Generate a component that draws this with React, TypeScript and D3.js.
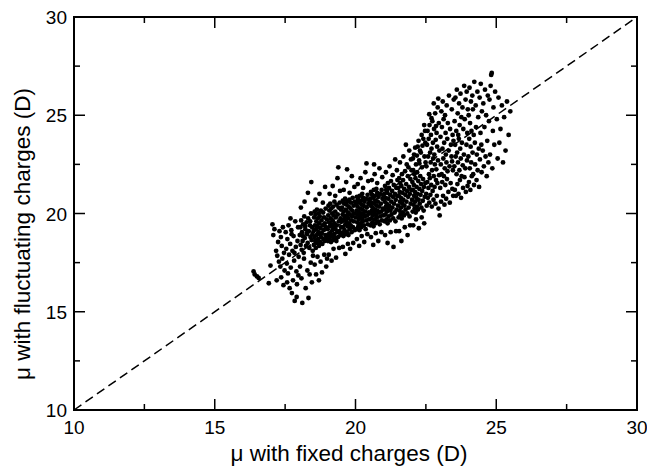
import React from "react";
import * as d3 from "d3";

const xTicksMajor = [10, 15, 20, 25, 30];
const xTicksMinor = [12.5, 17.5, 22.5, 27.5];
const yTicksMajor = [10, 15, 20, 25, 30];
const yTicksMinor = [12.5, 17.5, 22.5, 27.5];
const xTitle = "μ with fixed charges (D)";
const yTitle = "μ with fluctuating charges (D)";
const diagonal = [[10, 10], [30, 30]];

const tailPoints = [
  [16.38,17.05],[16.42,16.9],[16.5,16.8],[16.56,16.72],[16.92,16.45],[16.98,17.35],
  [17.05,19.45],[17.08,18.9],[17.12,19.2],[17.18,18.1],[17.22,17.85],[17.25,18.55],[17.3,19.1],[17.33,17.3],[17.36,16.75],[17.38,18.35],[17.4,17.7],[17.42,19.3],[17.44,16.35],[17.46,18.0],[17.48,17.1],[17.2,16.6],[17.28,17.55],[17.35,18.8],
  [17.52,19.05],[17.54,18.2],[17.56,17.45],[17.58,18.7],[17.6,16.95],[17.62,19.4],[17.64,17.9],[17.66,16.2],[17.68,18.45],[17.7,17.25],[17.72,19.15],[17.74,15.95],[17.76,18.1],[17.78,16.6],[17.8,18.85],[17.82,17.6],[17.84,15.55],[17.86,19.6],[17.88,18.3],[17.9,17.05],[17.92,16.4],[17.94,18.6],[17.96,19.3],[17.98,17.8],[17.57,16.5],[17.69,19.75],[17.83,18.0],[17.91,15.75],[17.73,18.95],[17.97,16.85],
];

const lowerCluster = [
  [18.02,18.9],[18.04,19.3],[18.05,18.4],[18.07,19.65],[18.09,18.15],[18.1,19.05],[18.12,18.6],[18.14,19.45],[18.16,18.0],[18.18,19.85],[18.2,18.75],[18.22,19.2],[18.24,18.35],[18.26,19.55],[18.28,18.95],[18.3,18.5],[18.32,19.75],[18.34,19.1],[18.36,18.25],[18.38,19.4],[18.4,18.8],[18.42,20.0],[18.44,18.65],[18.46,19.3],[18.48,18.1],[18.13,18.85],[18.27,19.0],[18.39,19.6],[18.47,18.95],[18.21,19.35],
  [18.03,17.3],[18.08,16.7],[18.11,15.45],[18.17,17.7],[18.23,16.2],[18.29,17.1],[18.33,15.7],[18.37,16.9],[18.41,17.5],[18.45,16.5],[18.06,20.3],[18.19,20.6],[18.31,21.05],[18.43,21.6],[18.49,17.85],
  [18.51,19.1],[18.52,18.4],[18.53,19.8],[18.54,18.8],[18.55,20.1],[18.56,19.4],[18.57,18.6],[18.58,19.95],[18.59,18.25],[18.6,19.2],[18.61,19.6],[18.62,18.9],[18.63,20.2],[18.64,18.5],[18.65,19.35],[18.66,19.75],[18.67,18.7],[18.68,19.05],[18.69,20.0],[18.7,18.35],[18.71,19.5],[18.72,18.95],[18.73,19.85],[18.74,18.55],[18.75,19.25],[18.77,20.15],[18.78,18.8],[18.79,19.65],[18.8,19.0],[18.82,18.45],[18.83,19.4],[18.85,20.05],[18.86,18.7],[18.87,19.15],[18.88,19.8],[18.9,18.6],[18.91,19.5],[18.93,18.9],[18.94,20.25],[18.95,19.3],[18.97,18.75],[18.98,19.7],
  [18.55,17.4],[18.6,16.9],[18.65,17.8],[18.7,16.6],[18.76,17.55],[18.81,17.0],[18.89,17.9],[18.96,17.3],[18.58,20.7],[18.72,21.0],[18.84,20.55],[18.92,21.35],[18.99,17.7],
  [19.01,19.2],[19.02,18.6],[19.03,19.9],[19.04,20.4],[19.05,18.9],[19.06,19.55],[19.07,20.15],[19.08,18.7],[19.09,19.35],[19.1,20.5],[19.11,19.0],[19.12,19.75],[19.13,18.55],[19.14,20.25],[19.15,19.45],[19.16,18.85],[19.17,20.0],[19.18,19.15],[19.19,19.65],[19.2,18.65],[19.21,20.35],[19.22,19.3],[19.23,19.9],[19.24,18.95],[19.25,20.6],[19.26,19.5],[19.27,18.75],[19.28,20.1],[19.29,19.2],[19.3,19.8],[19.32,18.6],[19.33,20.45],[19.34,19.4],[19.35,19.05],[19.37,19.95],[19.38,18.8],[19.4,20.3],[19.41,19.6],[19.43,19.1],[19.44,20.55],[19.46,18.9],[19.47,19.75],[19.48,20.2],[19.49,19.3],
  [19.05,17.9],[19.15,17.6],[19.22,18.2],[19.31,17.75],[19.42,18.25],[19.08,21.0],[19.19,21.4],[19.28,20.9],[19.36,21.8],[19.45,21.15],[19.39,22.35],
];

const middleCluster = [
  [19.51,19.6],[19.52,20.3],[19.53,19.0],[19.54,19.95],[19.55,20.65],[19.56,19.3],[19.57,18.85],[19.58,20.1],[19.59,19.7],[19.6,20.5],[19.61,19.15],[19.62,19.85],[19.63,20.75],[19.64,19.45],[19.65,18.95],[19.66,20.2],[19.67,19.6],[19.68,20.45],[19.69,19.05],[19.7,19.9],[19.71,20.6],[19.72,19.35],[19.73,20.05],[19.74,19.75],[19.75,18.9],[19.76,20.35],[19.77,19.5],[19.78,20.7],[19.79,19.2],[19.8,19.95],[19.82,20.25],[19.83,19.4],[19.84,20.55],[19.85,19.65],[19.86,19.05],[19.88,20.15],[19.89,19.85],[19.9,20.8],[19.91,19.3],[19.93,20.4],[19.94,19.6],[19.95,20.0],[19.97,19.15],[19.98,20.6],
  [19.55,18.3],[19.64,17.95],[19.73,18.45],[19.81,18.2],[19.92,18.5],[19.58,21.2],[19.67,21.6],[19.79,21.05],[19.87,21.9],[19.96,21.35],[19.7,22.25],
  [20.01,19.8],[20.02,20.5],[20.03,19.2],[20.04,20.15],[20.05,20.85],[20.06,19.55],[20.07,20.35],[20.08,19.95],[20.09,20.7],[20.1,19.35],[20.11,20.1],[20.12,19.7],[20.13,20.55],[20.14,19.15],[20.15,20.9],[20.16,19.85],[20.17,20.25],[20.18,19.5],[20.19,20.65],[20.2,20.0],[20.21,19.3],[20.22,20.45],[20.23,19.75],[20.24,21.0],[20.25,20.2],[20.26,19.6],[20.27,20.8],[20.28,19.95],[20.29,20.4],[20.3,19.4],[20.32,20.6],[20.33,19.85],[20.34,20.1],[20.36,19.2],[20.37,20.75],[20.38,19.65],[20.4,20.3],[20.41,19.9],[20.43,20.95],[20.44,19.45],[20.46,20.5],[20.47,20.05],[20.48,19.7],[20.49,20.65],
  [20.05,18.7],[20.13,18.35],[20.22,18.85],[20.31,18.55],[20.42,18.95],[20.08,21.5],[20.18,21.8],[20.27,21.3],[20.35,22.1],[20.45,21.65],[20.39,22.55],
  [20.51,20.0],[20.52,20.75],[20.53,19.4],[20.54,20.4],[20.55,21.1],[20.56,19.75],[20.57,20.55],[20.58,20.15],[20.59,20.95],[20.6,19.55],[20.61,20.3],[20.62,19.9],[20.63,20.8],[20.64,19.35],[20.65,21.2],[20.66,20.05],[20.67,20.5],[20.68,19.7],[20.69,20.9],[20.7,20.2],[20.71,19.5],[20.72,20.65],[20.73,19.95],[20.74,21.25],[20.75,20.4],[20.76,19.8],[20.77,21.05],[20.78,20.15],[20.79,20.6],[20.8,19.6],[20.82,20.85],[20.83,20.05],[20.84,20.35],[20.86,19.45],[20.87,21.0],[20.88,19.85],[20.9,20.5],[20.91,20.1],[20.93,21.2],[20.94,19.65],[20.96,20.75],[20.97,20.25],[20.98,19.9],[20.99,20.9],
  [20.55,18.8],[20.63,18.4],[20.72,19.0],[20.81,18.6],[20.92,19.05],[20.58,21.7],[20.68,22.0],[20.77,21.55],[20.85,22.3],[20.95,21.85],[20.66,22.5],
  [21.01,20.2],[21.02,21.0],[21.03,19.6],[21.04,20.6],[21.05,21.4],[21.06,19.95],[21.07,20.8],[21.08,20.35],[21.09,21.2],[21.1,19.7],[21.11,20.5],[21.12,20.1],[21.13,21.05],[21.14,19.5],[21.15,21.55],[21.16,20.25],[21.17,20.75],[21.18,19.85],[21.19,21.3],[21.2,20.4],[21.22,19.65],[21.23,20.95],[21.24,20.15],[21.26,21.65],[21.27,20.6],[21.28,19.95],[21.3,21.15],[21.31,20.3],[21.33,20.85],[21.34,19.75],[21.36,21.45],[21.37,20.5],[21.39,20.05],[21.4,21.0],[21.42,19.6],[21.43,20.7],[21.45,21.3],[21.46,20.2],[21.48,20.9],[21.49,21.7],
  [21.05,18.9],[21.14,18.5],[21.25,19.05],[21.35,18.3],[21.44,19.1],[21.08,22.1],[21.21,22.4],[21.32,21.95],[21.41,22.75],[21.47,22.2],
];

const upperCluster = [
  [21.51,20.4],[21.52,21.3],[21.53,19.8],[21.54,20.9],[21.55,21.8],[21.56,20.15],[21.57,21.1],[21.58,20.6],[21.59,21.55],[21.6,19.95],[21.61,20.8],[21.62,20.3],[21.63,21.4],[21.64,19.75],[21.65,22.0],[21.66,20.5],[21.67,21.05],[21.68,20.05],[21.69,21.7],[21.7,20.7],[21.72,19.9],[21.73,21.25],[21.74,20.4],[21.76,22.15],[21.77,20.95],[21.78,20.2],[21.8,21.5],[21.81,20.6],[21.83,21.15],[21.84,20.0],[21.86,21.9],[21.87,20.85],[21.89,20.3],[21.9,21.35],[21.92,19.85],[21.93,21.0],[21.95,21.75],[21.96,20.5],[21.98,21.2],[21.99,22.2],
  [21.55,19.1],[21.63,18.6],[21.75,19.3],[21.85,18.9],[21.94,19.4],[21.58,22.6],[21.7,22.9],[21.82,22.5],[21.91,23.2],[21.97,22.75],[21.79,23.5],[21.88,22.35],
  [22.01,20.7],[22.02,21.6],[22.03,20.1],[22.04,21.2],[22.05,22.2],[22.06,20.45],[22.07,21.45],[22.08,20.9],[22.09,22.0],[22.1,20.25],[22.11,21.1],[22.12,20.6],[22.13,21.8],[22.14,20.05],[22.15,22.5],[22.16,20.8],[22.17,21.35],[22.18,20.35],[22.19,22.1],[22.2,21.0],[22.22,20.2],[22.23,21.65],[22.24,20.7],[22.26,22.7],[22.27,21.25],[22.28,20.5],[22.3,21.9],[22.31,20.95],[22.33,21.5],[22.34,20.3],[22.36,22.35],[22.37,21.15],[22.39,20.65],[22.4,21.75],[22.42,20.15],[22.43,21.35],[22.45,22.9],[22.46,20.85],[22.48,21.55],[22.49,22.6],
  [22.05,19.4],[22.15,19.7],[22.25,19.25],[22.35,19.8],[22.44,19.5],[22.08,23.0],[22.21,23.4],[22.32,23.1],[22.41,23.8],[22.47,24.2],
  [22.04,22.8],[22.12,23.35],[22.18,22.95],[22.24,23.7],[22.29,23.2],[22.35,24.0],[22.38,23.45],[22.44,24.5],[22.48,23.6],[22.27,22.55],
  [22.51,21.0],[22.52,22.4],[22.53,20.4],[22.54,23.5],[22.55,21.6],[22.56,24.2],[22.57,20.8],[22.58,22.9],[22.59,21.3],[22.6,23.8],[22.61,22.0],[22.62,20.55],[22.63,24.5],[22.64,21.8],[22.65,23.1],[22.66,20.95],[22.67,22.6],[22.68,24.0],[22.69,21.45],[22.7,23.3],[22.71,20.35],[22.72,22.2],[22.73,24.7],[22.74,21.15],[22.75,23.6],[22.76,22.8],[22.77,20.7],[22.78,21.9],[22.79,24.3],[22.8,23.0],[22.81,21.35],[22.82,22.5],[22.83,25.1],[22.84,20.5],[22.85,23.75],[22.86,21.7],[22.87,22.25],[22.88,24.1],[22.89,20.9],[22.9,23.4],[22.91,21.55],[22.92,25.4],[22.93,22.7],[22.95,20.25],[22.96,24.6],[22.97,21.95],[22.98,23.2],[22.99,19.9],
  [22.62,25.05],[22.78,25.6],[22.94,25.85],[22.7,24.85],[22.86,24.45],
];

const topCluster = [
  [23.01,21.3],[23.02,23.9],[23.03,22.5],[23.04,20.6],[23.05,25.2],[23.06,22.0],[23.07,24.4],[23.08,21.6],[23.09,23.3],[23.1,25.7],[23.11,20.9],[23.12,22.8],[23.13,24.8],[23.14,21.9],[23.15,23.6],[23.16,20.45],[23.17,22.3],[23.18,25.0],[23.19,21.45],[23.2,24.1],[23.21,23.0],[23.22,20.75],[23.23,22.6],[23.24,25.5],[23.25,21.75],[23.26,23.8],[23.27,22.15],[23.28,24.6],[23.3,21.1],[23.31,23.2],[23.32,26.0],[23.34,22.4],[23.35,20.55],[23.36,24.3],[23.38,21.55],[23.39,23.5],[23.41,22.9],[23.42,25.3],[23.44,21.25],[23.45,24.0],[23.46,22.2],[23.47,20.9],[23.48,23.7],[23.49,25.8],[23.43,22.65],
  [23.51,22.4],[23.52,24.7],[23.53,21.2],[23.54,23.5],[23.55,25.9],[23.56,22.9],[23.57,20.9],[23.58,24.2],[23.59,22.0],[23.6,26.3],[23.61,23.1],[23.62,21.5],[23.63,25.1],[23.64,22.6],[23.65,24.0],[23.66,21.0],[23.67,23.8],[23.68,25.6],[23.69,22.2],[23.7,24.5],[23.71,21.7],[23.72,23.3],[23.73,26.1],[23.74,22.8],[23.75,20.8],[23.76,24.9],[23.77,21.9],[23.78,23.6],[23.8,25.4],[23.81,22.45],[23.82,21.3],[23.83,24.3],[23.85,23.0],[23.86,26.5],[23.87,21.85],[23.88,24.8],[23.9,22.3],[23.91,25.8],[23.92,21.1],[23.94,23.5],[23.95,26.2],[23.96,22.7],[23.97,24.1],[23.98,21.4],[23.99,25.3],
  [24.01,22.9],[24.02,25.0],[24.03,21.6],[24.04,23.8],[24.05,26.4],[24.06,22.3],[24.07,24.6],[24.08,21.2],[24.09,23.4],[24.1,25.7],[24.11,22.6],[24.12,24.2],[24.13,21.9],[24.15,26.0],[24.16,23.1],[24.17,25.3],[24.18,22.0],[24.2,24.0],[24.21,21.45],[24.22,26.7],[24.24,23.6],[24.25,22.5],[24.27,25.5],[24.28,24.4],[24.3,21.7],[24.31,23.0],[24.33,26.2],[24.34,22.2],[24.36,24.9],[24.38,23.3],[24.39,21.35],[24.41,25.9],[24.42,22.75],[24.44,24.1],[24.45,26.6],[24.47,23.5],[24.48,22.1],[24.49,25.2],
  [24.52,23.2],[24.54,25.6],[24.56,22.4],[24.58,24.4],[24.6,26.3],[24.62,22.9],[24.64,25.0],[24.66,21.9],[24.68,23.7],[24.7,26.0],[24.72,22.6],[24.74,24.7],[24.76,25.8],[24.78,23.0],[24.8,26.5],[24.82,27.05],[24.84,27.15],[24.86,22.3],[24.88,24.2],[24.9,25.4],[24.93,23.5],[24.96,26.2],
  [25.02,24.8],[25.05,22.8],[25.08,25.9],[25.11,23.6],[25.15,24.3],[25.2,25.5],[25.24,22.6],[25.28,24.9],[25.33,23.2],[25.38,25.7],[25.44,24.0],[25.5,25.2],
];

const allPoints = [...tailPoints, ...lowerCluster, ...middleCluster, ...upperCluster, ...topCluster];

const W = 647;
const H = 468;
const left = 74, right = 637, top = 17, bottom = 410;
const FONT = "'Liberation Sans', Arial, Helvetica, sans-serif";

export default function App() {
  const x = d3.scaleLinear().domain([10, 30]).range([left, right]);
  const y = d3.scaleLinear().domain([10, 30]).range([bottom, top]);
  const line = d3.line<number[]>().x(d => x(d[0])).y(d => y(d[1]));
  const majorLen = 11, minorLen = 6;

  return (
    <svg width={W} height={H} style={{ position: "absolute", left: 0, top: 0, background: "#fff" }} fontFamily={FONT}>
      <rect x={0} y={0} width={W} height={H} fill="#fff" />
      <path d={line(diagonal) || ""} stroke="#000" strokeWidth={1.5} strokeDasharray="9,5" fill="none" />
      <g>
        {allPoints.map((p, i) => (
          <circle key={i} cx={x(p[0])} cy={y(p[1])} r={2.4} fill="#000" />
        ))}
      </g>
      <rect x={left} y={top} width={right - left} height={bottom - top} fill="none" stroke="#000" strokeWidth={2} />
      {xTicksMajor.map(t => (
        <g key={"xM" + t}>
          <line x1={x(t)} x2={x(t)} y1={bottom} y2={bottom - majorLen} stroke="#000" strokeWidth={1.5} />
          <line x1={x(t)} x2={x(t)} y1={top} y2={top + majorLen} stroke="#000" strokeWidth={1.5} />
          <text x={x(t)} y={434} textAnchor="middle" fontSize={19}>{t}</text>
        </g>
      ))}
      {xTicksMinor.map(t => (
        <g key={"xm" + t}>
          <line x1={x(t)} x2={x(t)} y1={bottom} y2={bottom - minorLen} stroke="#000" strokeWidth={1.5} />
          <line x1={x(t)} x2={x(t)} y1={top} y2={top + minorLen} stroke="#000" strokeWidth={1.5} />
        </g>
      ))}
      {yTicksMajor.map(t => (
        <g key={"yM" + t}>
          <line x1={left} x2={left + majorLen} y1={y(t)} y2={y(t)} stroke="#000" strokeWidth={1.5} />
          <line x1={right} x2={right - majorLen} y1={y(t)} y2={y(t)} stroke="#000" strokeWidth={1.5} />
          <text x={67} y={y(t) + 7} textAnchor="end" fontSize={19}>{t}</text>
        </g>
      ))}
      {yTicksMinor.map(t => (
        <g key={"ym" + t}>
          <line x1={left} x2={left + minorLen} y1={y(t)} y2={y(t)} stroke="#000" strokeWidth={1.5} />
          <line x1={right} x2={right - minorLen} y1={y(t)} y2={y(t)} stroke="#000" strokeWidth={1.5} />
        </g>
      ))}
      <text x={349} y={461} textAnchor="middle" fontSize={22.5}>{xTitle}</text>
      <text transform={`translate(30,234) rotate(-90)`} textAnchor="middle" fontSize={22.5}>{yTitle}</text>
    </svg>
  );
}
